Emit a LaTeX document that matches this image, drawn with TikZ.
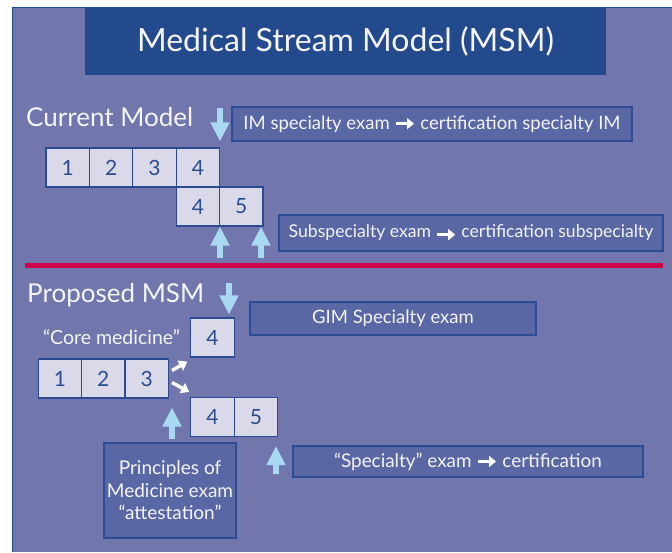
\documentclass[tikz,border=0pt]{standalone}
\usepackage{fontspec}
\setmainfont{Lato}
\usetikzlibrary{arrows.meta,calc}
\definecolor{bg}{RGB}{113,118,172}
\definecolor{framebl}{RGB}{36,74,142}
\definecolor{titlebl}{RGB}{36,74,142}
\definecolor{boxfill}{RGB}{90,103,165}
\definecolor{boxline}{RGB}{44,76,148}
\definecolor{cellfill}{RGB}{217,217,234}
\definecolor{cellline}{RGB}{44,74,146}
\definecolor{numcol}{RGB}{44,74,142}
\definecolor{sepred}{RGB}{208,4,76}
\definecolor{lblue}{RGB}{169,216,242}
\definecolor{txt}{RGB}{244,244,250}
\newcommand{\rar}{\tikz[baseline=-0.3em]{\draw[white,line width=3.2pt,-{Triangle[width=11pt,length=7pt]}] (0pt,0pt)--(18pt,0pt);}}
\begin{document}
\begin{tikzpicture}[x=1pt,y=-1pt,
  cell/.style={draw=cellline,line width=1.1pt,fill=cellfill,minimum width=43.4pt,minimum height=39pt,inner sep=0pt,text=numcol,font=\fontsize{21}{23}\selectfont},
  tbox/.style={draw=boxline,line width=1.1pt,fill=boxfill,inner sep=0pt,text=txt,font=\fontsize{18.5}{21}\selectfont},
  heading/.style={text=txt,font=\fontsize{26}{29}\selectfont,inner sep=0pt,anchor=base west},
  bluearrow/.style={draw=lblue,line width=6.5pt,-{Triangle[width=18pt,length=19pt]}},
  whitearrow/.style={draw=white,line width=3.4pt,-{Triangle[width=11pt,length=8pt]}}
]
\useasboundingbox (0,0) rectangle (672,552);
\fill[white] (0,0) rectangle (672,552);
\fill[bg] (12,7) rectangle (672,552);
\draw[framebl,line width=1.5pt] (12.5,552) -- (12.5,7.5) -- (672,7.5);
% title
\node[fill=titlebl,minimum width=521pt,minimum height=68pt,inner sep=0pt,text=txt,font=\fontsize{32}{35}\selectfont] (title) at (345.5,41) {Medical Stream Model (MSM)};
% current model
\node[heading] (cur) at (26,126) {Current Model};
\node[cell] (c1) at (67.7,167.5) {1};
\node[cell] (c2) at (111.1,167.5) {2};
\node[cell] (c3) at (154.5,167.5) {3};
\node[cell] (c4) at (197.9,167.5) {4};
\node[cell] (d4) at (197.9,206.5) {4};
\node[cell] (d5) at (241.3,206.5) {5};
\node[tbox,minimum width=400pt,minimum height=34pt] (im) at (432,124) {IM specialty exam \rar{} certification specialty IM};
\node[tbox,minimum width=384pt,minimum height=36pt,font=\fontsize{17.6}{20}\selectfont] (sub) at (471,233) {Subspecialty exam \raisebox{-2pt}{\rar}{} certification subspecialty};
\coordinate (a1) at (220,108);
\draw[bluearrow] (a1) -- ($(a1 |- c4.north)+(0,-6)$);
\coordinate (a2) at (220,258);
\coordinate (a3) at (261,258);
\draw[bluearrow] (a2) -- (a2 |- d4.south);
\draw[bluearrow] (a3) -- (a3 |- d5.south);
% separator
\draw[sepred,line width=5pt] (25,265.5) -- (663,265.5);
% proposed
\node[heading] (prop) at (27,302) {Proposed MSM};
\node[text=txt,font=\fontsize{19.5}{22}\selectfont,inner sep=0pt] (core) at (111.5,337) {“Core medicine”};
\node[cell] (t4) at (212.5,337.5) {4};
\node[cell] (p1) at (59.9,378.5) {1};
\node[cell] (p2) at (103.3,378.5) {2};
\node[cell] (p3) at (146.7,378.5) {3};
\node[cell] (b4) at (212.5,417) {4};
\node[cell] (b5) at (255.9,417) {5};
\node[tbox,minimum width=286pt,minimum height=33pt] (gim) at (393,318.5) {GIM Specialty exam};
\node[tbox,minimum width=350pt,minimum height=31pt,font=\fontsize{18.9}{21}\selectfont] (spec) at (468,461.5) {“Specialty” exam \rar{} certification};
\node[tbox,minimum width=132pt,minimum height=95pt,align=center,font=\fontsize{19}{22.5}\selectfont] (prin) at (170,490.5) {Principles of\\Medicine exam\\“attestation”};
\coordinate (a4) at (229,283);
\draw[bluearrow] (a4) -- ($(a4 |- t4.north)+(0,-3)$);
\draw[whitearrow] ($(p3.east)+(3,-8)$) -- ($(t4.south west)+(-3,4)$);
\draw[whitearrow] ($(p3.east)+(3,4)$) -- ($(b4.north west)+(-1,-5)$);
\coordinate (a5) at (172,439);
\draw[bluearrow] (a5) -- ($(a5 |- p3.south)+(0,9)$);
\coordinate (a6) at (276,474);
\draw[bluearrow] (a6) -- ($(a6 |- b5.south)+(0,9)$);
\end{tikzpicture}
\end{document}
